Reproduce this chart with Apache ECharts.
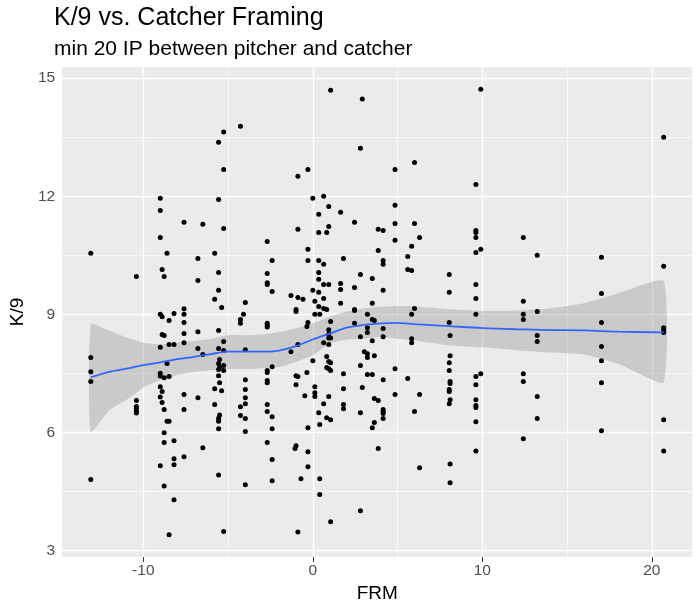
<!DOCTYPE html>
<html>
<head>
<meta charset="utf-8">
<script src="https://cdn.jsdelivr.net/npm/echarts@6/dist/echarts.min.js"></script>
<style>
  html, body { margin: 0; padding: 0; background: #fff; }
  #chart { width: 700px; height: 610px; }
</style>
</head>
<body>
<div id="chart"></div>
<script>
const frmCols = [-13.1, -10.41, -9.0, -8.89, -8.77, -8.6, -8.48, -8.19, -7.6, -6.78,
  -6.49, -5.79, -5.56, -5.5, -5.38, -5.26, -4.27, -4.09, -3.98, -2.69,
  -2.4, -1.29, -1.05, -0.99, -0.88, -0.7, -0.58, -0.47, -0.35, -0.29,
  0, 0.12, 0.35, 0.41, 0.64, 0.82, 0.94, 1.05, 1.64, 1.81,
  2.46, 2.81, 2.92, 3.04, 3.22, 3.51, 3.63, 3.86, 4.15, 4.85,
  5.6, 5.83, 6.0, 6.3, 8.05, 8.1, 9.62, 9.91, 12.42, 13.24,
  17.03, 20.7];
const k9ByCol = [
  [10.55, 7.9, 7.54, 7.29, 4.8],
  [9.96, 6.81, 6.66, 6.6, 6.54, 6.49],
  [11.95, 11.64, 10.95, 9.0, 8.16, 7.5, 7.43, 7.16, 6.9, 5.15],
  [10.14, 8.94, 8.49, 7.04, 6.76],
  [9.96, 8.46, 7.39, 6.58, 5.99, 5.74, 4.64],
  [10.55, 7.75, 6.28],
  [8.84, 8.23, 7.42, 6.28, 3.4],
  [9.02, 8.23, 5.79, 5.33, 5.18, 4.29],
  [11.34, 9.14, 9.0, 8.79, 8.51, 8.28, 6.96, 6.58, 5.38],
  [10.42, 9.86, 8.56, 8.13, 6.88],
  [11.29, 7.98, 5.61],
  [10.55, 9.38, 7.11, 6.71],
  [13.37, 11.92, 10.06, 9.61, 8.59, 8.13, 7.75, 7.6, 7.44, 6.36, 6.28, 6.09, 4.92],
  [7.85, 7.65, 7.26, 6.44],
  [9.17, 7.06],
  [13.63, 12.68, 11.18, 8.31, 8.08, 7.7, 7.57, 3.48],
  [13.78, 8.87, 8.77, 6.65, 6.43],
  [9.0],
  [9.3, 8.1, 7.34, 7.09, 6.88, 6.73, 6.35, 6.02, 4.67],
  [10.85, 10.04, 9.8, 9.76, 8.77, 8.72, 8.68, 7.57, 7.52, 7.32, 7.26, 6.71, 6.53, 5.74],
  [10.37, 9.58, 7.67, 6.4, 6.09, 5.31, 4.77],
  [9.48, 8.05],
  [5.59],
  [9.12, 9.07, 7.44, 7.21, 5.66],
  [12.51, 11.16, 9.43, 8.23, 7.42, 3.47],
  [4.82],
  [9.38],
  [6.93],
  [8.69, 7.52],
  [12.68, 10.65, 10.37, 8.79, 6.12, 5.51, 5.13],
  [11.95, 9.61, 7.82],
  [9.33, 9.0, 7.16, 7.01, 6.91],
  [11.54, 11.08, 10.37, 10.06, 9.89, 9.56, 9.2, 6.5],
  [9.0, 6.2, 4.82, 4.42],
  [12.0, 10.27, 9.76, 9.4, 9.15, 8.28, 6.73],
  [11.08, 9.12, 7.93, 7.65, 6.37],
  [11.74, 11.23, 9.76, 8.61, 8.5, 8.4, 8.23, 7.8, 7.62, 6.91],
  [14.69, 8.82, 8.4, 7.77, 7.57, 6.32, 3.73],
  [11.59, 9.78, 9.63, 9.28],
  [10.42, 7.49, 7.11, 6.71, 6.6],
  [11.34, 9.68, 9.12, 9.1, 8.77],
  [13.22, 10.01, 8.43, 7.7, 6.5, 4.01],
  [14.47, 7.14],
  [8.05],
  [9.0, 8.66, 8.54, 8.0, 7.9, 7.47],
  [9.91, 9.28, 8.87, 8.33, 7.47, 6.12],
  [8.84, 7.95, 6.86, 6.25],
  [11.16, 10.62, 6.81, 5.59],
  [11.13, 10.37, 10.27, 9.61, 8.64, 8.43, 7.34, 6.58, 6.53, 6.48, 6.35],
  [12.68, 11.77, 11.31, 10.88, 7.62, 6.96],
  [10.47, 10.14, 7.37],
  [10.73, 10.11, 9.0, 8.38, 8.28],
  [12.86, 11.31, 9.15, 6.53],
  [10.95, 6.96, 5.1],
  [10.01, 9.56, 8.79, 7.77, 7.57, 7.09, 7.04, 6.73],
  [8.46, 7.95, 7.29, 7.24, 6.83, 5.2, 4.72],
  [12.3, 11.13, 11.08, 10.95, 10.57, 9.76, 9.4, 9.0, 7.42, 7.21, 6.83, 6.68, 6.63, 6.27, 5.53],
  [14.72, 10.65, 7.49],
  [10.95, 9.33, 9.0, 8.87, 7.49, 7.29, 5.84],
  [10.5, 9.07, 8.46, 8.31, 6.91, 6.35],
  [10.45, 9.53, 8.79, 8.18, 7.82, 7.26, 6.04],
  [13.5, 10.22, 8.66, 8.6, 8.54, 6.32, 5.53]
];

// loess fit and its confidence band
const smoothX  = [-13.1, -12, -11, -10, -9, -8, -7, -6, -5, -4, -3, -2, -1, 0, 1, 2, 3, 4, 5, 6, 8, 10, 12, 14, 16, 18, 20.7];
const smoothY  = [7.40, 7.54, 7.62, 7.71, 7.78, 7.86, 7.92, 7.99, 8.05, 8.05, 8.05, 8.08, 8.19, 8.36, 8.51, 8.66, 8.73, 8.77, 8.78, 8.75, 8.70, 8.65, 8.62, 8.60, 8.59, 8.56, 8.54];
const smoothLo = [6.01, 6.56, 6.82, 7.14, 7.33, 7.46, 7.54, 7.58, 7.61, 7.61, 7.63, 7.66, 7.79, 7.96, 8.26, 8.36, 8.38, 8.43, 8.38, 8.34, 8.21, 8.16, 8.09, 8.03, 7.98, 7.75, 7.27];
const smoothHi = [8.75, 8.58, 8.41, 8.28, 8.24, 8.28, 8.32, 8.38, 8.47, 8.47, 8.49, 8.55, 8.64, 8.77, 8.94, 9.07, 9.15, 9.19, 9.21, 9.20, 9.13, 9.09, 9.10, 9.15, 9.28, 9.53, 9.85];

// axis breaks
const xMajor = [-10, 0, 10, 20];
const xMinor = [-5, 5, 15];
const yMajor = [3, 6, 9, 12, 15];
const yMinor = [4.5, 7.5, 10.5, 13.5];

const FONT = 'Liberation Sans, Arial, sans-serif';

const points = [];
frmCols.forEach((x, i) => k9ByCol[i].forEach(y => points.push([x, y])));

// panel grid lines (ggplot style: white major and thinner minor lines)
const gridLines = []
  .concat(xMinor.map(v => ({ xAxis: v, lineStyle: { width: 0.7 } })))
  .concat(yMinor.map(v => ({ yAxis: v, lineStyle: { width: 0.7 } })))
  .concat(xMajor.map(v => ({ xAxis: v, lineStyle: { width: 1.4 } })))
  .concat(yMajor.map(v => ({ yAxis: v, lineStyle: { width: 1.4 } })));

const chart = echarts.init(document.getElementById('chart'));
chart.setOption({
  animation: false,
  backgroundColor: '#fff',
  title: {
    text: 'K/9 vs. Catcher Framing',
    subtext: 'min 20 IP between pitcher and catcher',
    left: 54, top: 6, itemGap: 8, padding: 0,
    textStyle: { fontFamily: FONT, fontSize: 25, fontWeight: 'normal', color: '#000' },
    subtextStyle: { fontFamily: FONT, fontSize: 21, color: '#000' }
  },
  grid: {
    left: 54.6, right: 7.7, top: 66.9, bottom: 53,
    show: true, backgroundColor: '#EBEBEB', borderWidth: 0
  },
  xAxis: {
    type: 'value', min: -14.79, max: 22.39,
    name: 'FRM', nameLocation: 'middle', nameGap: 26,
    nameTextStyle: { fontFamily: FONT, fontSize: 19, color: '#000' },
    axisLine: { show: false },
    splitLine: { show: false },
    axisTick: { show: true, customValues: xMajor, length: 5, lineStyle: { color: '#333', width: 1 } },
    axisLabel: { customValues: xMajor, margin: 6, fontFamily: FONT, fontSize: 15.5, color: '#4D4D4D' }
  },
  yAxis: {
    type: 'value', min: 2.834, max: 15.286,
    name: 'K/9', nameLocation: 'middle', nameGap: 34,
    nameTextStyle: { fontFamily: FONT, fontSize: 19, color: '#000' },
    axisLine: { show: false },
    splitLine: { show: false },
    axisTick: { show: true, customValues: yMajor, length: 5, lineStyle: { color: '#333', width: 1 } },
    axisLabel: { customValues: yMajor, margin: 7, fontFamily: FONT, fontSize: 15.5, color: '#4D4D4D' }
  },
  series: [
    {
      type: 'scatter',
      data: points,
      symbolSize: 5,
      itemStyle: { color: '#000', opacity: 1 },
      silent: true,
      z: 2,
      markLine: {
        z: 1,
        silent: true,
        symbol: ['none', 'none'],
        label: { show: false },
        lineStyle: { color: '#fff', type: 'solid' },
        emphasis: { disabled: true },
        data: gridLines
      }
    },
    {
      type: 'custom',
      z: 2,
      silent: true,
      data: smoothX.map((x, i) => [x, smoothLo[i], smoothHi[i]]),
      encode: { x: 0, y: [1, 2] },
      renderItem: function (params, api) {
        if (params.dataIndex !== 0) return;
        const pts = [];
        for (let i = 0; i < smoothX.length; i++) pts.push(api.coord([smoothX[i], smoothHi[i]]));
        for (let i = smoothX.length - 1; i >= 0; i--) pts.push(api.coord([smoothX[i], smoothLo[i]]));
        return { type: 'polygon', shape: { points: pts, smooth: 0.15 }, style: { fill: 'rgba(153,153,153,0.4)' } };
      }
    },
    {
      type: 'line',
      z: 3,
      silent: true,
      data: smoothX.map((x, i) => [x, smoothY[i]]),
      smooth: 0.3,
      showSymbol: false,
      lineStyle: { color: '#3366FF', width: 1.8 }
    }
  ]
});
</script>
</body>
</html>
